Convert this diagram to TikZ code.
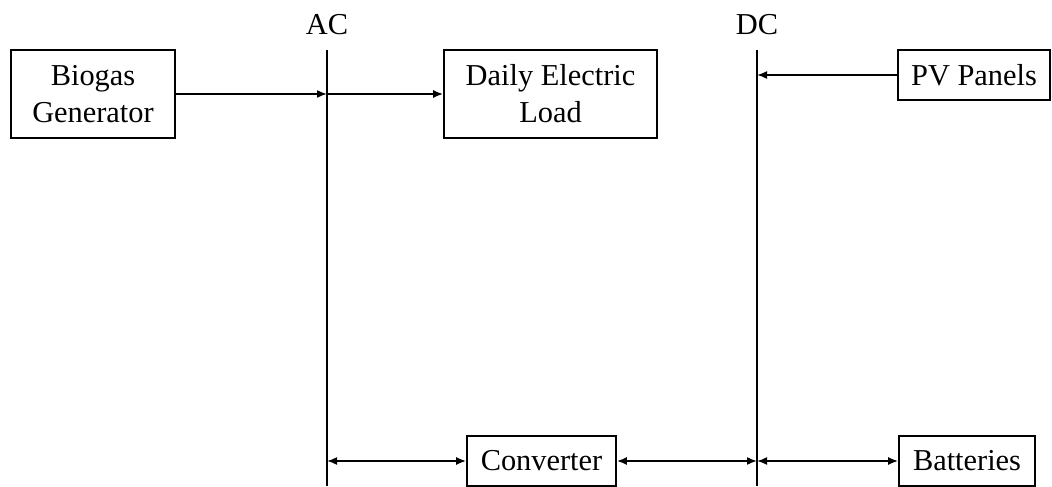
\documentclass[tikz,border=0pt]{standalone}
\usepackage{fontspec}
\setmainfont{Liberation Serif}
\usetikzlibrary{arrows.meta}
\begin{document}
\begin{tikzpicture}[x=1bp,y=-1bp,line width=1.7bp,
  txt/.style={font=\fontsize{30.5}{37}\selectfont},
  box/.style={draw,txt,align=center,inner sep=0pt,line width=1.7bp},
  bus/.style={line width=1.7bp},
  tip/.tip={Latex[length=10bp,width=8bp]},
  conn/.style={line width=1.7bp}]
\useasboundingbox (0,0) rectangle (1052,487);
% buses
\coordinate (acT) at (327,50);
\coordinate (acB) at (327,486);
\coordinate (dcT) at (757,50);
\coordinate (dcB) at (757,486);
\draw[bus] (acT) -- (acB);
\draw[bus] (dcT) -- (dcB);
\node[txt,anchor=base] (ac) at (327,35) {AC};
\node[txt,anchor=base] (dc) at (757,35) {DC};
% boxes
\node[box,minimum width=164bp,minimum height=88bp] (bio) at (93,94) {Biogas\\Generator};
\node[box,minimum width=213bp,minimum height=88bp] (load) at (550.5,94) {Daily Electric\\Load};
\node[box,minimum width=152bp,minimum height=50bp] (pv) at (974,75) {PV Panels};
\node[box,minimum width=149bp,minimum height=50bp] (conv) at (541.5,461) {Converter};
\node[box,minimum width=136bp,minimum height=50bp] (bat) at (967,461) {Batteries};
% connectors
\draw[conn,-tip] (bio.east) -- (bio.east -| acT);
\draw[conn,-tip] (bio.east -| acT) -- (load.west);
\draw[conn,-tip] (pv.west) -- (pv.west -| dcT);
\draw[conn,tip-tip] (conv.west -| acT) -- (conv.west);
\draw[conn,tip-tip] (conv.east) -- (conv.east -| dcT);
\draw[conn,tip-tip] (bat.west -| dcT) -- (bat.west);
\end{tikzpicture}
\end{document}
